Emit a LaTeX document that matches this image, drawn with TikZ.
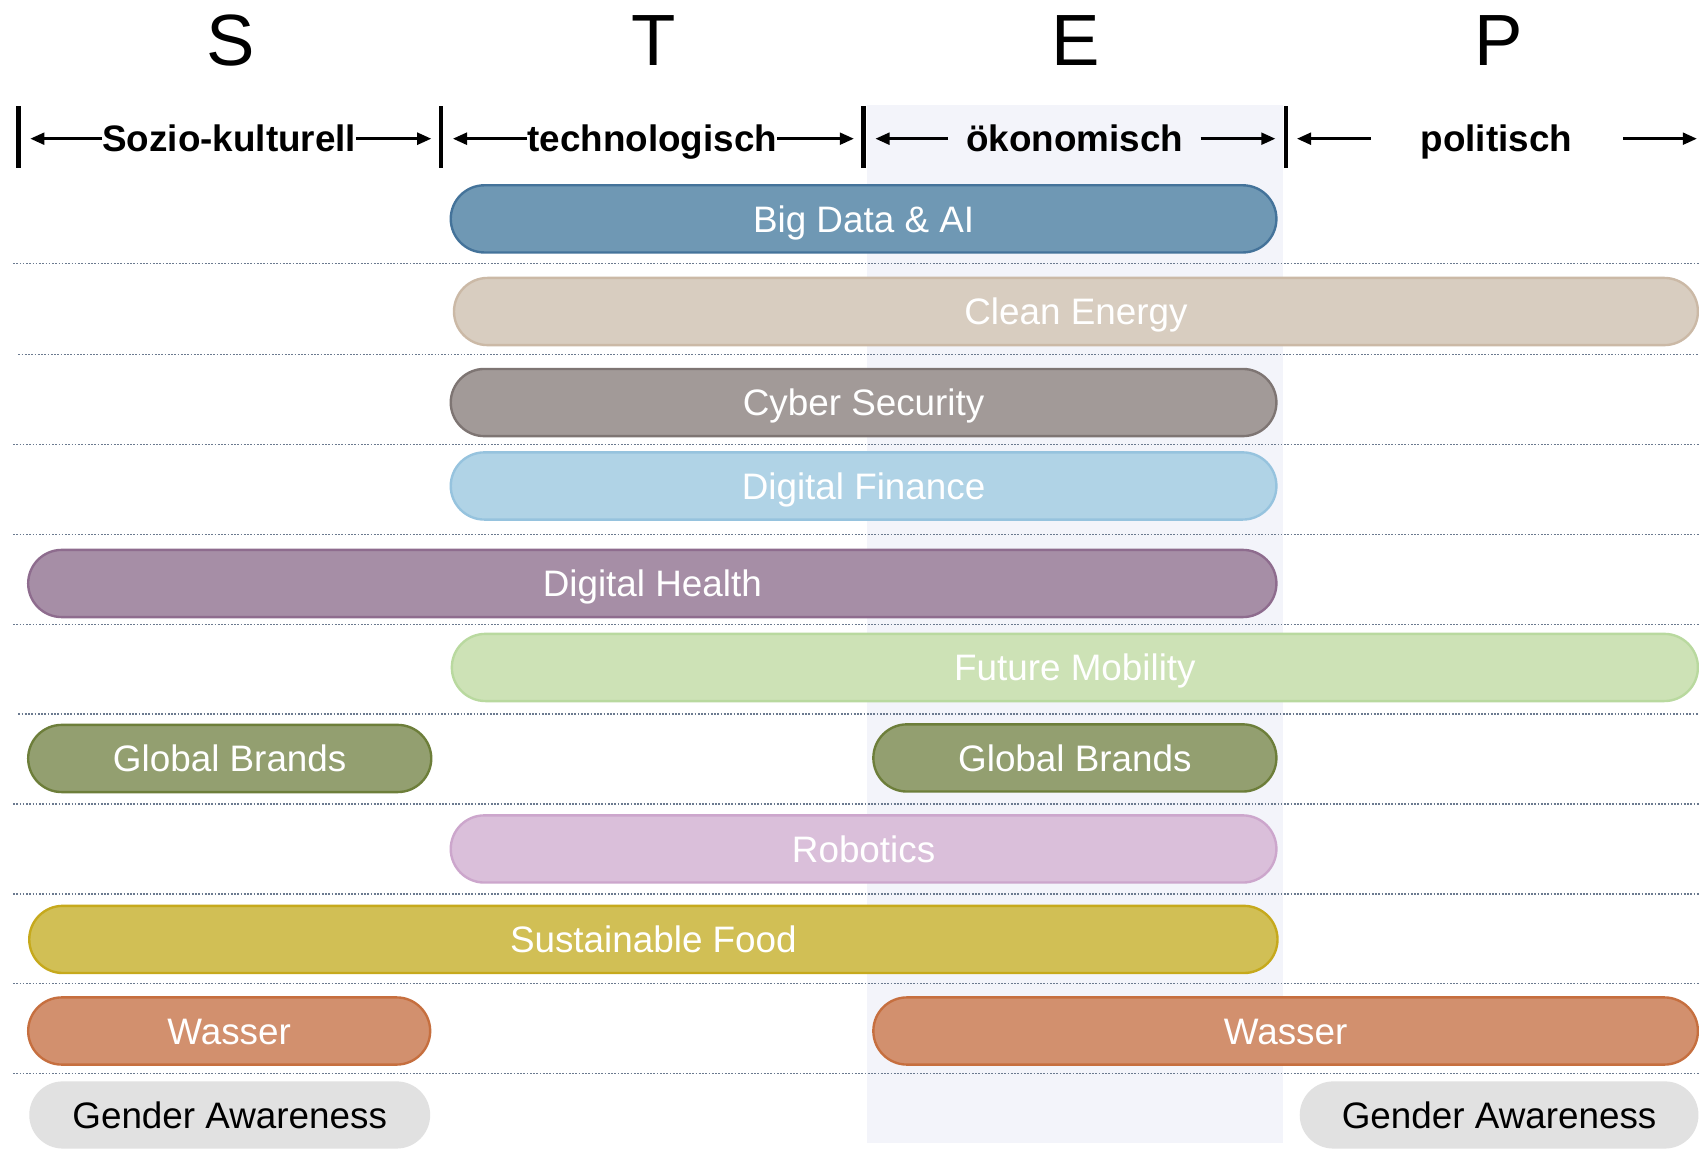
\documentclass[tikz,border=0pt]{standalone}
\usepackage{fontspec}
\setmainfont{Liberation Sans}
\usetikzlibrary{arrows.meta}
\definecolor{bandc}{HTML}{F3F4FA}
\definecolor{sepc}{HTML}{6B7A8F}
\definecolor{bdF}{HTML}{6F98B4}\definecolor{bdD}{HTML}{44739A}
\definecolor{ceF}{HTML}{D8CDC0}\definecolor{ceD}{HTML}{CBB9A6}
\definecolor{csF}{HTML}{A29A98}\definecolor{csD}{HTML}{7E7573}
\definecolor{dfF}{HTML}{B0D3E6}\definecolor{dfD}{HTML}{96C3DE}
\definecolor{dhF}{HTML}{A68EA6}\definecolor{dhD}{HTML}{8E6C8E}
\definecolor{fmF}{HTML}{CDE2B6}\definecolor{fmD}{HTML}{B9D99F}
\definecolor{gbF}{HTML}{939F70}\definecolor{gbD}{HTML}{6D7E3A}
\definecolor{roF}{HTML}{DABFDA}\definecolor{roD}{HTML}{CCA6CC}
\definecolor{sfF}{HTML}{D1BF55}\definecolor{sfD}{HTML}{C6A91C}
\definecolor{waF}{HTML}{D2906E}\definecolor{waD}{HTML}{C66F3F}
\definecolor{gaF}{HTML}{E1E1E1}
\begin{document}
\begin{tikzpicture}[x=1pt,y=-1pt,
  pill/.style={rectangle, rounded corners=31pt, minimum height=62pt, line width=2.2pt,
    text=white, font=\fontsize{34}{40}\selectfont, text height=24.3pt, text depth=0pt, inner sep=0pt},
  sepline/.style={draw=sepc, line width=1.1pt, dash pattern=on 1.6pt off 1.4pt},
  tickline/.style={line width=4pt},
  arr/.style={-{Triangle[length=13pt,width=11pt]}, line width=2.4pt},
  head/.style={font=\bfseries\fontsize{34}{40}\selectfont, inner sep=0pt, text height=24.3pt, text depth=0pt},
  bigletter/.style={font=\fontsize{67}{80}\selectfont, inner sep=0pt, anchor=base}]
\useasboundingbox (0,0) rectangle (1568,1067);
\fill[white] (0,0) rectangle (1568,1067);
% band
\fill[bandc] (800,97) rectangle (1184,1055);
% STEP letters
\node[bigletter] (S) at (213,60) {S};
\node[bigletter] (T) at (603,60) {T};
\node[bigletter] (E) at (993,60) {E};
\node[bigletter] (P) at (1383,60) {P};
% ticks
\foreach \x in {17,407,797,1187} \draw[tickline] (\x,98) -- (\x,155);
% header labels
\node[head] (soz) at (211.5,128) {Sozio-kulturell};
\node[head] (tec) at (602,128) {technologisch};
\node[head] (oek) at (992,128) {ökonomisch};
\node[head] (pol) at (1381,128) {politisch};
\coordinate (s1) at (28,128); \coordinate (s2) at (398,128);
\coordinate (t1) at (418,128); \coordinate (t2) at (788,128);
\coordinate (e0) at (875,128); \coordinate (e1) at (808,128);
\coordinate (e3) at (1108,128); \coordinate (e2) at (1177,128);
\coordinate (p0) at (1265,128); \coordinate (p1) at (1197,128);
\coordinate (p3) at (1498,128); \coordinate (p2) at (1566,128);
\draw[arr] (soz.west) -- (s1);
\draw[arr] (soz.east) -- (s2);
\draw[arr] (tec.west) -- (t1);
\draw[arr] (tec.east) -- (t2);
\draw[arr] (e0) -- (e1);
\draw[arr] (e3) -- (e2);
\draw[arr] (p0) -- (p1);
\draw[arr] (p3) -- (p2);
% separators
\foreach \y/\xs in {243/12,327/17,410/12,493/12,576/12,659/17,742/12,825/12,908/12,991/12}
  \draw[sepline] (\xs,\y) -- (1568,\y);
% bars
\node[pill, fill=bdF, draw=bdD, minimum width=762pt] (bigdata) at (797,202) {Big Data \& AI};
\node[pill, fill=ceF, draw=ceD, minimum width=1148pt] (clean) at (993,287.5) {Clean Energy};
\node[pill, fill=csF, draw=csD, minimum width=762pt] (cyber) at (797,371.5) {Cyber Security};
\node[pill, fill=dfF, draw=dfD, minimum width=762pt] (finance) at (797,448.5) {Digital Finance};
\node[pill, fill=dhF, draw=dhD, minimum width=1152pt] (health) at (602,538.5) {Digital Health};
\node[pill, fill=fmF, draw=fmD, minimum width=1150pt] (mobility) at (992,616) {Future Mobility};
\node[pill, fill=gbF, draw=gbD, minimum width=372pt] (gb1) at (212,700) {Global Brands};
\node[pill, fill=gbF, draw=gbD, minimum width=372pt] (gb2) at (992,699.5) {Global Brands};
\node[pill, fill=roF, draw=roD, minimum width=762pt] (robotics) at (797,783.5) {Robotics};
\node[pill, fill=sfF, draw=sfD, minimum width=1152pt] (food) at (603,867) {Sustainable Food};
\node[pill, fill=waF, draw=waD, minimum width=371pt] (wa1) at (211.5,951.5) {Wasser};
\node[pill, fill=waF, draw=waD, minimum width=761pt] (wa2) at (1186.5,951.5) {Wasser};
\node[pill, fill=gaF, draw=none, text=black, minimum width=370pt] (ga1) at (212,1029) {Gender Awareness};
\node[pill, fill=gaF, draw=none, text=black, minimum width=368pt] (ga2) at (1383.5,1029) {Gender Awareness};
\end{tikzpicture}
\end{document}
